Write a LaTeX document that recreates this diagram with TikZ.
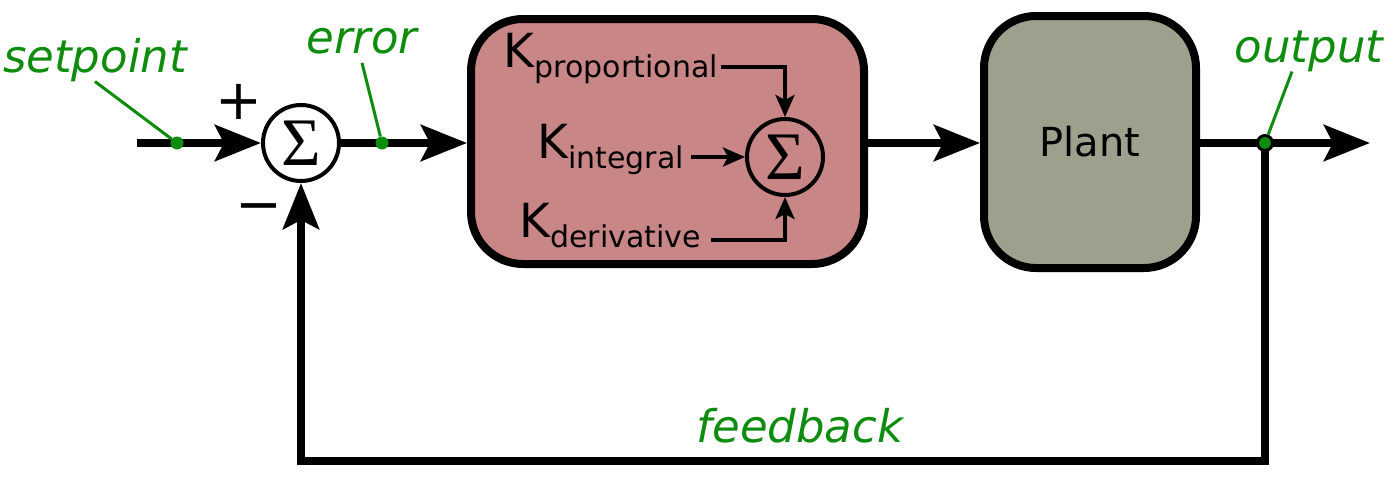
\documentclass[tikz,border=0pt]{standalone}
\usepackage{fontspec}
\setmainfont{DejaVu Sans}
\newfontfamily\sigmafont{Liberation Serif}
\usetikzlibrary{arrows.meta, calc, positioning}
\definecolor{SigG}  {HTML}{0E8C0E}
\definecolor{PidF}  {HTML}{C98686}
\definecolor{PlantF}{HTML}{9E9F8D}
\newcommand{\kgain}[1]{K\raisebox{-10pt}{\fontsize{30}{30}\selectfont #1}}
\tikzset{
  blk/.style={
    rectangle, rounded corners=52pt,
    draw=black, fill=#1, line width=8pt,
    inner sep=0pt,
  },
  sumnode/.style={
    circle, draw=black, line width=4pt,
    minimum size=76pt, inner sep=0pt,
    font=\fontsize{68}{68}\sigmafont\selectfont,
  },
  arr/.style={
    -{Stealth[length=46pt,width=36pt,inset=9pt]},
    line width=8pt,
  },
  sarr/.style={
    -{Stealth[length=22pt,width=19pt,inset=5pt]},
    line width=4pt,
  },
  sig/.style={
    font=\fontsize{45}{45}\selectfont\itshape, text=SigG,
    inner sep=0pt, anchor=base,
  },
  lead/.style={draw=SigG, line width=3pt},
  tap/.style={circle, fill=SigG, inner sep=0pt, minimum size=#1},
  kterm/.style={
    font=\fontsize{47}{47}\selectfont,
    inner sep=0pt, anchor=base east,
  },
  sgn/.style={font=\fontsize{56}{56}\selectfont, inner sep=0pt},
}
\begin{document}
\begin{tikzpicture}[x=1pt,y=-1pt]
  \useasboundingbox (0,0) rectangle (1397,482);

  % summing junction and blocks
  \node[sumnode] (sum) at (301,143) {\raisebox{-3pt}{Σ}};
  \node[blk=PidF, minimum width=393pt, minimum height=245pt] (pid) at (667.5,141.5) {};
  \node[blk=PlantF, minimum width=212pt, minimum height=252pt,
        font=\fontsize{40}{40}\selectfont] (plant) at (1090,142) {Plant};
  \node[sumnode] (psum) at (785,157) {\raisebox{-3pt}{Σ}};

  \node[sgn] (plus)  at (239,102) {+};
  \node[sgn] (minus) at (259,214) {\char"2212};

  % gains
  \node[kterm] (kp) at (718,67)  {\kgain{proportional}};
  \node[kterm] (ki) at (684,158) {\kgain{integral}};
  \node[kterm] (kd) at (701,237) {\kgain{derivative}};
  \draw[sarr] ([xshift=3pt]kp.base east) -| (psum.north);
  \draw[sarr] ([xshift=7pt]ki.base east |- psum) -- (psum.west);
  \draw[sarr] ([xshift=10pt,yshift=-3pt]kd.base east) -| (psum.south);

  % main path
  \coordinate (in)  at (137,143);
  \coordinate (out) at (1370,143);
  \coordinate (fb)  at (301,461);
  \draw[arr] (in) -- (sum.west);
  \draw[arr] (sum.east) -- (sum.east -| pid.west);
  \draw[arr] (pid.east |- sum) -- (plant.west |- sum);
  \draw[arr] (plant.east |- sum) -- (out);
  \node[tap=13pt] (spdot)  at (177,143) {};
  \node[tap=13pt] (errdot) at (382,143) {};
  \draw[arr] (1265,143) |- (fb) -- (sum.south);
  \node[tap=15pt, draw=black, line width=3pt] (outdot) at (1265,143) {};

  % signal names
  \node[sig] (sp)  at (95,72)    {setpoint};
  \node[sig] (err) at (362,53)   {error};
  \node[sig] (ot)  at (1309,62)  {output};
  \node[sig] (fbl) at (800,442)  {feedback};
  \draw[lead] (sp.south) -- (spdot);
  \draw[lead] ([yshift=-9pt]err.south) -- (errdot);
  \draw[lead] ([xshift=-17pt]ot.south) -- (outdot);

\end{tikzpicture}
\end{document}
